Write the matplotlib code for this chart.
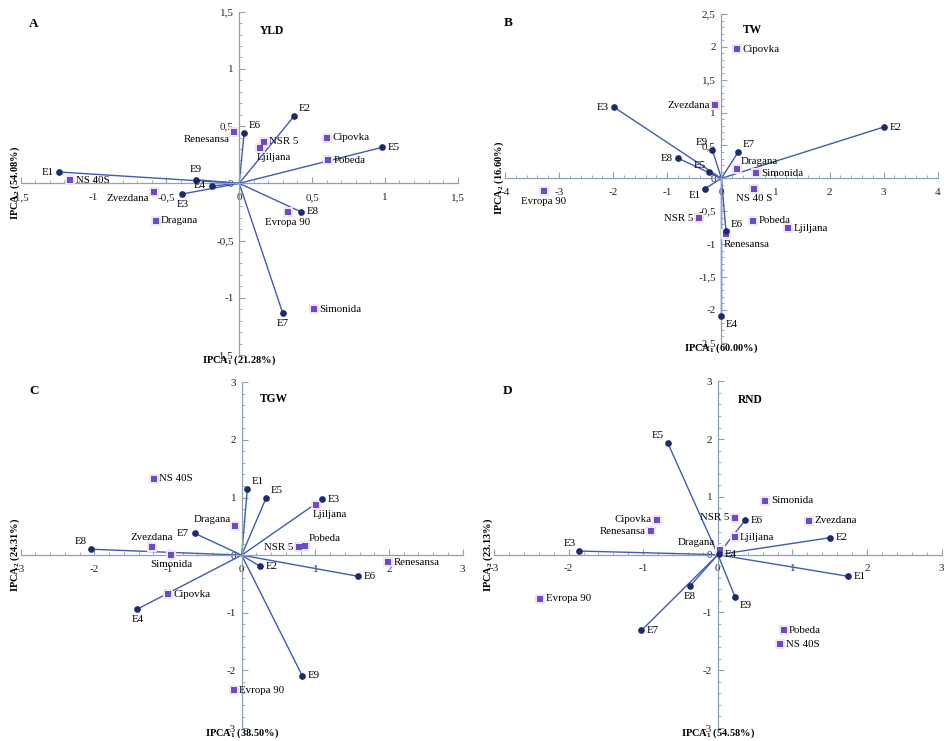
import matplotlib
matplotlib.use("Agg")
import matplotlib.pyplot as plt
from matplotlib.ticker import MultipleLocator, FuncFormatter

plt.rcParams['font.family'] = ['Liberation Serif', 'DejaVu Serif']
plt.rcParams['axes.unicode_minus'] = False
plt.rcParams['mathtext.fontset'] = 'custom'
plt.rcParams['mathtext.rm'] = 'Liberation Serif'
plt.rcParams['mathtext.bf'] = 'Liberation Serif:bold'

genotypes = ['NS 40S', 'Zvezdana', 'Dragana', 'Renesansa', 'NSR 5', 'Ljiljana',
             'Cipovka', 'Pobeda', 'Evropa 90', 'Simonida']
genotypes_tw = ['NS 40 S', 'Zvezdana', 'Dragana', 'Renesansa', 'NSR 5', 'Ljiljana',
                'Cipovka', 'Pobeda', 'Evropa 90', 'Simonida']
envs = ['E1', 'E2', 'E3', 'E4', 'E5', 'E6', 'E7', 'E8', 'E9']

# YLD
yld_env_x = [-1.236, 0.378, -0.391, -0.19, 0.982, 0.034, 0.30, 0.423, -0.297]
yld_env_y = [0.099, 0.589, -0.093, -0.023, 0.315, 0.44, -1.137, -0.248, 0.032]
yld_gen_x = [-1.16, -0.588, -0.574, -0.034, 0.167, 0.142, 0.602, 0.609, 0.334, 0.513]
yld_gen_y = [0.026, -0.073, -0.327, 0.449, 0.362, 0.312, 0.397, 0.201, -0.254, -1.102]

# TW
tw_env_x = [-0.302, 3.0, -1.978, 0.0, -0.222, 0.086, 0.314, -0.795, -0.166]
tw_env_y = [-0.157, 0.78, 1.079, -2.09, 0.091, -0.805, 0.405, 0.304, 0.43]
tw_gen_x = [0.61, -0.111, 0.283, 0.086, -0.419, 1.238, 0.296, 0.579, -3.278, 0.641]
tw_gen_y = [-0.157, 1.109, 0.142, -0.851, -0.608, -0.76, 1.966, -0.648, -0.193, 0.076]

# TGW
tgw_env_x = [0.077, 0.244, 1.093, -1.418, 0.334, 1.585, -0.637, -2.045, 0.822]
tgw_env_y = [1.155, -0.19, 0.971, -0.937, 1.0, -0.368, 0.379, 0.103, -2.092]
tgw_gen_x = [-1.196, -1.219, -0.09, 1.991, 0.772, 1.007, -1.007, 0.858, -0.108, -0.957]
tgw_gen_y = [1.322, 0.138, 0.5, -0.126, 0.138, 0.879, -0.678, 0.167, -2.345, 0.006]

# RND
rnd_env_x = [1.743, 1.502, -1.855, 0.013, -0.671, 0.367, -1.024, -0.375, 0.232]
rnd_env_y = [-0.374, 0.293, 0.063, 0.011, 1.931, 0.598, -1.31, -0.546, -0.736]
rnd_gen_x = [0.836, 1.216, 0.022, -0.894, 0.232, 0.224, -0.814, 0.881, -2.378, 0.635]
rnd_gen_y = [-1.552, 0.586, 0.08, 0.408, 0.638, 0.305, 0.603, -1.305, -0.759, 0.931]

# label placement codes (layout only)
place = {
    'A': {'env': ['l', 'ar', 'b', 'l', 'r', 'ar', 'b', 'r', 'a'],
          'gen': ['r', 'bl', 'r', 'bl', 'r', 'bs', 'r', 'r', 'b', 'r']},
    'B': {'env': ['bl', 'r', 'l', 'br', 'al', 'ar', 'ar', 'l', 'al'],
          'gen': ['b', 'l', 'ar', 'bs', 'l', 'r', 'r', 'r', 'b', 'r']},
    'C': {'env': ['ar', 'r', 'r', 'b', 'ar', 'r', 'l', 'al', 'r'],
          'gen': ['r', 'a', 'al', 'r', 'l', 'bs', 'r', 'ar', 'r', 'b']},
    'D': {'env': ['r', 'r', 'al', 'r', 'al', 'r', 'r', 'b', 'br'],
          'gen': ['r', 'r', 'al', 'l', 'l', 'r', 'l', 'r', 'r', 'r']},
}

offs = {
    'r': ((4, 0), 'left', 'center'),
    'l': ((-4, 0), 'right', 'center'),
    'a': ((0, 4), 'center', 'bottom'),
    'b': ((0, -4), 'center', 'top'),
    'ar': ((3, 2), 'left', 'bottom'),
    'al': ((-3, 2), 'right', 'bottom'),
    'br': ((3, -3), 'left', 'top'),
    'bl': ((-3, -2), 'right', 'top'),
    'bs': ((-2, -4), 'left', 'top'),
}

# letter / title positions in figure pixels
letter_pos = {'A': (34, 24), 'B': (508, 23), 'C': (34, 391), 'D': (508, 391)}
title_pos = {'A': (272, 31), 'B': (752, 30), 'C': (274, 399), 'D': (750, 400)}

panels = [
    ('A', 'YLD', genotypes, yld_env_x, yld_env_y, yld_gen_x, yld_gen_y, 1.5, 1.5, 0.5, 0.5, 0.1, 0.1,
     '21.28', '54.08', [0.0219, 0.5209, 0.4624, 0.4633]),
    ('B', 'TW', genotypes_tw, tw_env_x, tw_env_y, tw_gen_x, tw_gen_y, 4, 2.5, 1, 0.5, 0.2, 0.1,
     '60.00', '16.60', [0.5344, 0.5375, 0.4579, 0.4436]),
    ('C', 'TGW', genotypes, tgw_env_x, tgw_env_y, tgw_gen_x, tgw_gen_y, 3, 3, 1, 1, 0.2, 0.2,
     '38.50', '24.31', [0.0219, 0.0175, 0.4677, 0.4666]),
    ('D', 'RND', genotypes, rnd_env_x, rnd_env_y, rnd_gen_x, rnd_gen_y, 3, 3, 1, 1, 0.2, 0.2,
     '54.58', '23.13', [0.5228, 0.0175, 0.4737, 0.4679]),
]

line_col = '#3f5cb0'
env_col = '#1c2a6e'
gen_col = '#6a4cc4'
axis_col = '#8ea2b4'


def fmt(v, pos):
    if abs(v) < 1e-9:
        return '0'
    return ('%g' % round(v, 2)).replace('.', ',')


fig = plt.figure(figsize=(9.45, 7.41), dpi=100)

for letter, title, names, ex, ey, gx, gy, xl, yl, xmaj, ymaj, xmin, ymin, p1, p2, rect in panels:
    ax = fig.add_axes(rect)
    ax.set_xlim(-xl, xl)
    ax.set_ylim(-yl, yl)
    for s in ['top', 'right']:
        ax.spines[s].set_visible(False)
    for s in ['left', 'bottom']:
        ax.spines[s].set_position(('data', 0))
        ax.spines[s].set_color(axis_col)
        ax.spines[s].set_linewidth(0.9)
    ax.xaxis.set_major_locator(MultipleLocator(xmaj))
    ax.yaxis.set_major_locator(MultipleLocator(ymaj))
    ax.xaxis.set_minor_locator(MultipleLocator(xmin))
    ax.yaxis.set_minor_locator(MultipleLocator(ymin))
    ax.xaxis.set_major_formatter(FuncFormatter(fmt))
    ax.yaxis.set_major_formatter(FuncFormatter(fmt))
    ax.tick_params(which='major', direction='in', length=4, color=axis_col,
                   labelsize=8, labelcolor='#222222')
    ax.tick_params(axis='x', which='major', pad=7)
    ax.tick_params(axis='y', which='major', pad=4)
    ax.tick_params(which='minor', direction='in', length=2.5, color=axis_col)
    ax.patch.set_alpha(0)

    for x, y in zip(ex, ey):
        ax.plot([0, x], [0, y], color=line_col, lw=1.0, zorder=2)
    ax.plot(ex, ey, 'o', color=env_col, ms=3.8, zorder=4)
    ax.plot(gx, gy, 's', color='#f1e6f0', ms=6.5, mew=0, zorder=3)
    ax.plot(gx, gy, 's', color=gen_col, ms=4.2, mew=0, zorder=3)

    for name, x, y, code in zip(envs, ex, ey, place[letter]['env']):
        o, ha, va = offs[code]
        ax.annotate(name, (x, y), xytext=o, textcoords='offset points',
                    ha=ha, va=va, fontsize=7.8, zorder=5)
    for name, x, y, code in zip(names, gx, gy, place[letter]['gen']):
        o, ha, va = offs[code]
        ax.annotate(name, (x, y), xytext=o, textcoords='offset points',
                    ha=ha, va=va, fontsize=7.8, zorder=5)

    ax.annotate(r'IPCA$_\mathbf{1}$ (' + p1 + '%)', (0, 0), xycoords=('data', 'axes fraction'),
                xytext=(0, -4), textcoords='offset points', ha='center', va='center',
                fontsize=7.5, fontweight='bold')
    ax.annotate(r'IPCA$_\mathbf{2}$ (' + p2 + '%)', (0, 0), xycoords=('axes fraction', 'data'),
                xytext=(-4, 0), textcoords='offset points', ha='center', va='center',
                rotation=90, fontsize=7.5, fontweight='bold')

    lx, ly = letter_pos[letter]
    fig.text(lx / 945, 1 - ly / 741, letter, fontsize=9.5, fontweight='bold',
             ha='center', va='center')
    tx, ty = title_pos[letter]
    fig.text(tx / 945, 1 - ty / 741, title, fontsize=8.3, fontweight='bold',
             ha='center', va='center')

fig.savefig('out.png', dpi=100)
